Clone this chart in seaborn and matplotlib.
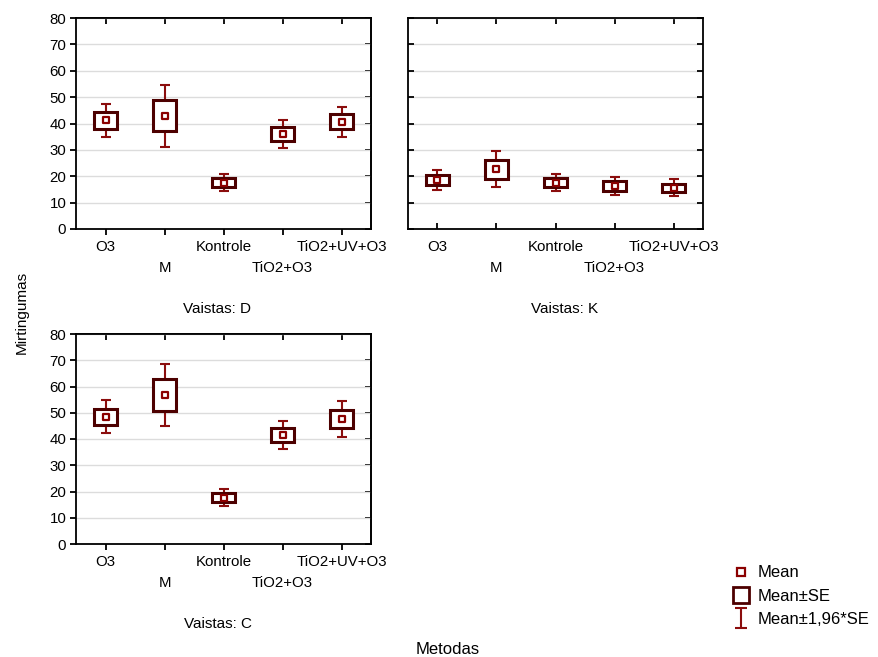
import numpy as np
import pandas as pd
import matplotlib
matplotlib.use("Agg")
import matplotlib.pyplot as plt
from matplotlib.path import Path
from matplotlib.lines import Line2D
from matplotlib.transforms import ScaledTranslation
import seaborn as sns

# ---------------- data ----------------
methods = ["O3", "M", "Kontrole", "TiO2+O3", "TiO2+UV+O3"]
panels = ["D", "K", "C"]
mean_D = [41.3, 43.0, 17.6, 36.1, 40.7]
se_D = [3.2, 6.0, 1.6, 2.7, 2.9]
mean_K = [18.6, 22.6, 17.6, 16.3, 15.6]
se_K = [1.9, 3.5, 1.6, 1.8, 1.65]
mean_C = [48.4, 56.8, 17.7, 41.5, 47.6]
se_C = [3.2, 6.0, 1.65, 2.8, 3.45]
y_ticks = [0, 10, 20, 30, 40, 50, 60, 70, 80]

means = {"D": mean_D, "K": mean_K, "C": mean_C}
ses = {"D": se_D, "K": se_K, "C": se_C}

rows = []
for p in panels:
    for m, mu, s in zip(methods, means[p], ses[p]):
        rows.append({"Vaistas": p, "Metodas": m, "Mean": mu, "SE": s})
df = pd.DataFrame(rows)

# ---------------- style ----------------
sns.set_theme(style="white")
plt.rcParams["font.family"] = ["Liberation Sans", "DejaVu Sans"]
plt.rcParams["axes.linewidth"] = 1.3
plt.rcParams["text.color"] = "black"
plt.rcParams["xtick.color"] = "black"
plt.rcParams["ytick.color"] = "black"
plt.rcParams["axes.labelcolor"] = "black"

BOX_C = "#4d0000"
WHISK_C = "#8b0d0d"
MEAN_C = "#8b0000"
TICK_FS = 10.8

W, H = 879, 657
fig = plt.figure(figsize=(W / 100, H / 100), dpi=100)

def fr(x0, y0, x1, y1):
    return [x0 / W, 1 - y1 / H, (x1 - x0) / W, (y1 - y0) / H]

axes_pos = {
    "D": fr(76, 18, 371, 229),
    "K": fr(408, 18, 703, 229),
    "C": fr(76, 334, 371, 544),
}
title_pos = {"D": (217, 309), "K": (565, 309), "C": (218, 624)}
stagger = ScaledTranslation(0, -21 / 100, fig.dpi_scale_trans)

for p in panels:
    ax = fig.add_axes(axes_pos[p])
    sub = df[df["Vaistas"] == p].reset_index(drop=True)
    x = np.arange(len(sub))
    # whiskers (mean +/- 1.96*SE)
    ax.errorbar(x, sub["Mean"], yerr=1.96 * sub["SE"], fmt="none",
                ecolor=WHISK_C, elinewidth=1.5, capsize=3.4, capthick=1.5, zorder=2)
    # boxes (mean +/- SE)
    ax.bar(x, 2 * sub["SE"], bottom=sub["Mean"] - sub["SE"], width=0.38,
           color="white", edgecolor=BOX_C, linewidth=2.2, zorder=3)
    # mean markers
    sns.scatterplot(data=sub, x="Metodas", y="Mean", ax=ax, marker="s", s=22,
                    facecolor="white", edgecolor=MEAN_C, linewidth=1.6, zorder=4,
                    legend=False)
    ax.set_xlim(-0.5, len(methods) - 0.5)
    ax.set_ylim(0, 80)
    ax.set_yticks(y_ticks)
    ax.yaxis.grid(True, color="#dcdcdc", linewidth=1.0)
    ax.set_axisbelow(True)
    for s in ax.spines.values():
        s.set_color("black")
        s.set_linewidth(1.3)
    ax.set_xticks(x)
    ax.set_xticklabels(methods, fontsize=TICK_FS, color="black")
    ax.set_xlabel("")
    ax.set_ylabel("")
    if p == "K":
        ax.tick_params(axis="both", which="both", direction="in", length=4, width=1.3,
                       top=True, right=True, bottom=True, left=True,
                       labelleft=False, pad=8, colors="black")
    else:
        ax.tick_params(axis="both", which="both", direction="out", length=4, width=1.3,
                       bottom=True, left=True, pad=3, labelsize=TICK_FS, colors="black")
        ax.tick_params(axis="x", pad=4)
        sec_x = ax.secondary_xaxis("top")
        sec_x.set_xticks(x)
        sec_x.set_xticklabels([])
        sec_x.tick_params(direction="in", length=4, width=1.3, colors="black")
        sec_y = ax.secondary_yaxis("right")
        sec_y.set_yticks(y_ticks)
        sec_y.set_yticklabels([])
        sec_y.tick_params(direction="in", length=4, width=1.3, colors="black")
    for i, lab in enumerate(ax.get_xticklabels()):
        if i % 2:
            lab.set_transform(lab.get_transform() + stagger)
    tx, ty = title_pos[p]
    fig.text(tx / W, 1 - ty / H, f"Vaistas: {p}", ha="center", va="center", fontsize=11)

fig.text(22 / W, 1 - 312 / H, "Mirtingumas", rotation=90, ha="center", va="center", fontsize=11)
fig.text(448 / W, 1 - 650 / H, "Metodas", ha="center", va="center", fontsize=12)

# legend
whisk_path = Path([(-0.65, 1), (0.65, 1), (0, 1), (0, -1), (-0.65, -1), (0.65, -1)],
                  [Path.MOVETO, Path.LINETO, Path.MOVETO, Path.LINETO, Path.MOVETO, Path.LINETO])
handles = [
    Line2D([], [], linestyle="none", marker="s", markersize=5.5, markerfacecolor="white",
           markeredgecolor=MEAN_C, markeredgewidth=1.6),
    Line2D([], [], linestyle="none", marker="s", markersize=11.5, markerfacecolor="white",
           markeredgecolor=BOX_C, markeredgewidth=2.0),
    Line2D([], [], linestyle="none", marker=whisk_path, markersize=14, markerfacecolor="none",
           markeredgecolor=WHISK_C, markeredgewidth=1.5),
]
fig.legend(handles, ["Mean", "Mean±SE", "Mean±1,96*SE"], loc="upper left",
           bbox_to_anchor=(724 / W, 1 - 557 / H), frameon=False, fontsize=12,
           handlelength=1.0, handletextpad=0.5, labelspacing=0.5, borderpad=0)

fig.savefig("out.png", dpi=100)
